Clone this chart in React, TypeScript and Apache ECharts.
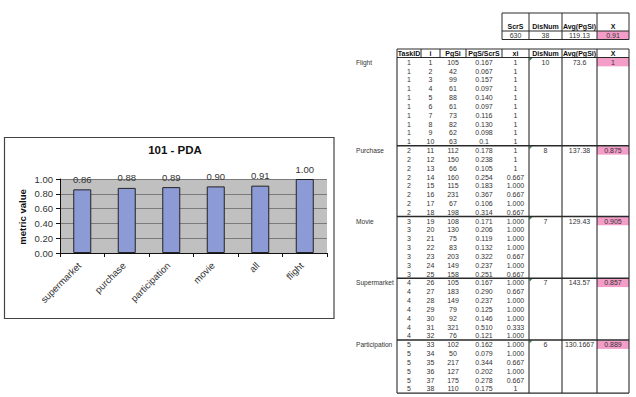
import React, { useEffect, useRef } from 'react';
import * as echarts from 'echarts';

// ---- Chart data ----
const categories = ['supermarket', 'purchase', 'participation', 'movie', 'all', 'flight'];
const metricValues = [0.86, 0.88, 0.89, 0.9, 0.91, 1.0];
const yAxisTitle = 'metric value';

// ---- Summary table ----
const summaryHeaders = ['ScrS', 'DisNum', 'Avg(PgSi)', 'X'];
const summaryValues = ['630', '38', '119.13', '0.91'];

// ---- Detail table ----
const tableHeaders = ['TaskID', 'i', 'PgSi', 'PgS/ScrS', 'xi', 'DisNum', 'Avg(PgSi)', 'X'];
const groupNames = ['Flight', 'Purchase', 'Movie', 'Supermarket', 'Participation'];
const groupTaskIds = ['1', '2', '3', '4', '5'];
const groupSizes = [10, 8, 7, 7, 6];
const groupDisNum = ['10', '8', '7', '7', '6'];
const groupAvg = ['73.6', '137.38', '129.43', '143.57', '130.1667'];
const groupX = ['1', '0.875', '0.905', '0.857', '0.889'];
const pgSi = [
  '105', '42', '99', '61', '88', '61', '73', '82', '62', '63',
  '112', '150', '66', '160', '115', '231', '67', '198',
  '108', '130', '75', '83', '203', '149', '158',
  '105', '183', '149', '79', '92', '321', '76',
  '102', '50', '217', '127', '175', '110',
];
const pgsRatio = [
  '0.167', '0.067', '0.157', '0.097', '0.140', '0.097', '0.116', '0.130', '0.098', '0.1',
  '0.178', '0.238', '0.105', '0.254', '0.183', '0.367', '0.106', '0.314',
  '0.171', '0.206', '0.119', '0.132', '0.322', '0.237', '0.251',
  '0.167', '0.290', '0.237', '0.125', '0.146', '0.510', '0.121',
  '0.162', '0.079', '0.344', '0.202', '0.278', '0.175',
];
const xiValues = [
  '1', '1', '1', '1', '1', '1', '1', '1', '1', '1',
  '1', '1', '1', '0.667', '1.000', '0.667', '1.000', '0.667',
  '1.000', '1.000', '1.000', '1.000', '0.667', '1.000', '0.667',
  '1.000', '0.667', '1.000', '1.000', '1.000', '0.333', '1.000',
  '1.000', '1.000', '0.667', '1.000', '0.667', '1',
];

// ---- Layout ----
const FONT = "'Liberation Sans', Arial, sans-serif";
const COLS = [397, 421, 440, 466, 502, 529, 562, 597, 629];
const HEAD_TOP = 49;
const HEAD_BOT = 57.5;
const ROW_H = 8.83;
const SUM_COLS = [502, 529, 562, 597, 629];
const SUM_TOP = 13;
const SUM_MID = 31;
const SUM_BOT = 39.5;
const PINK = '#F39DC8';
const LINE = '#2a2a2a';
const TXT = '#333';

function ln(x1: number, y1: number, x2: number, y2: number, w = 1, color = LINE) {
  return {
    type: 'line',
    silent: true,
    shape: { x1, y1, x2, y2 },
    style: { stroke: color, lineWidth: w },
  };
}

function tx(x: number, y: number, text: string, opts: any = {}) {
  const align = opts.align || 'center';
  const size = opts.size || 7;
  const weight = opts.bold ? 'bold' : 'normal';
  return {
    type: 'text',
    silent: true,
    x,
    y,
    rotation: opts.rotation || 0,
    style: {
      text,
      fill: opts.color || TXT,
      font: `${weight} ${size}px ${FONT}`,
      fontSize: size,
      fontFamily: FONT,
      fontWeight: weight,
      align,
      textAlign: align,
      verticalAlign: 'middle',
      textVerticalAlign: 'middle',
    },
  };
}

function buildGraphics() {
  const g: any[] = [];
  // chart outer frame
  g.push({
    type: 'rect',
    silent: true,
    shape: { x: 4.5, y: 137.5, width: 329.5, height: 181 },
    style: { fill: 'none', stroke: '#444', lineWidth: 1.2 },
  });
  // y axis title
  g.push(tx(22, 217, yAxisTitle, { bold: true, size: 9.5, color: '#111', rotation: Math.PI / 2 }));

  // summary table
  g.push({
    type: 'rect',
    silent: true,
    shape: { x: SUM_COLS[3], y: SUM_MID, width: SUM_COLS[4] - SUM_COLS[3], height: SUM_BOT - SUM_MID },
    style: { fill: PINK },
  });
  [SUM_TOP, SUM_MID, SUM_BOT].forEach((y) => g.push(ln(SUM_COLS[0], y, SUM_COLS[4], y)));
  SUM_COLS.forEach((x) => g.push(ln(x, SUM_TOP, x, SUM_BOT)));
  summaryHeaders.forEach((h, k) => {
    const cx = (SUM_COLS[k] + SUM_COLS[k + 1]) / 2;
    g.push(tx(cx, 26, h, { bold: true, color: '#111' }));
    g.push(tx(cx, (SUM_MID + SUM_BOT) / 2, summaryValues[k]));
  });

  const nRows = pgSi.length;
  const bottom = HEAD_BOT + nRows * ROW_H;

  // pink X cells + green markers
  let start = 0;
  groupSizes.forEach((size) => {
    const top = HEAD_BOT + start * ROW_H;
    g.push({
      type: 'rect',
      silent: true,
      shape: { x: COLS[7], y: top + 0.5, width: COLS[8] - COLS[7], height: ROW_H - 0.5 },
      style: { fill: PINK },
    });
    g.push({
      type: 'polygon',
      silent: true,
      shape: { points: [[COLS[5] + 0.5, top + 0.5], [COLS[5] + 3.5, top + 0.5], [COLS[5] + 0.5, top + 3.5]] },
      style: { fill: '#2f8f4f' },
    });
    start += size;
  });

  // header borders
  g.push(ln(COLS[0], HEAD_TOP, COLS[8], HEAD_TOP));
  g.push(ln(COLS[0], HEAD_BOT, COLS[8], HEAD_BOT, 1.2));
  COLS.forEach((x) => g.push(ln(x, HEAD_TOP, x, HEAD_BOT)));
  tableHeaders.forEach((h, k) => {
    const cx = (COLS[k] + COLS[k + 1]) / 2;
    g.push(tx(cx, (HEAD_TOP + HEAD_BOT) / 2, h, { bold: true, color: '#111' }));
  });

  // data verticals
  [COLS[0], COLS[5], COLS[6], COLS[7], COLS[8]].forEach((x) => g.push(ln(x, HEAD_BOT, x, bottom, 1.1)));
  g.push(ln(COLS[0], bottom, COLS[8], bottom, 1.2));

  // group separators & texts
  let row = 0;
  groupSizes.forEach((size, gi) => {
    const top = HEAD_BOT + row * ROW_H;
    if (gi > 0) g.push(ln(COLS[0], top, COLS[8], top, 1.4));
    const cy0 = top + ROW_H / 2 + 0.3;
    g.push(tx(356, cy0, groupNames[gi], { align: 'left', size: 6.6 }));
    g.push(tx((COLS[5] + COLS[6]) / 2, cy0, groupDisNum[gi]));
    g.push(tx((COLS[6] + COLS[7]) / 2, cy0, groupAvg[gi]));
    g.push(tx((COLS[7] + COLS[8]) / 2, cy0, groupX[gi]));
    for (let r = 0; r < size; r++) {
      const idx = row + r;
      const cy = HEAD_BOT + idx * ROW_H + ROW_H / 2 + 0.3;
      g.push(tx((COLS[0] + COLS[1]) / 2, cy, groupTaskIds[gi]));
      g.push(tx((COLS[1] + COLS[2]) / 2, cy, String(idx + 1)));
      g.push(tx((COLS[2] + COLS[3]) / 2, cy, pgSi[idx]));
      g.push(tx((COLS[3] + COLS[4]) / 2, cy, pgsRatio[idx]));
      g.push(tx((COLS[4] + COLS[5]) / 2, cy, xiValues[idx]));
    }
    row += size;
  });
  return g;
}

export default function App() {
  const ref = useRef<HTMLDivElement>(null);
  useEffect(() => {
    if (!ref.current) return;
    const chart = echarts.init(ref.current, undefined, { renderer: 'svg' });
    chart.setOption({
      animation: false,
      backgroundColor: '#ffffff',
      textStyle: { fontFamily: FONT },
      title: {
        text: '101 - PDA',
        left: 170,
        top: 139,
        textAlign: 'center',
        textStyle: { fontSize: 11.5, fontWeight: 'bold', color: '#111', fontFamily: FONT },
      },
      grid: {
        left: 60,
        top: 179,
        width: 267,
        height: 74,
        show: true,
        backgroundColor: '#C0C0C0',
        borderWidth: 0,
        containLabel: false,
      },
      xAxis: {
        type: 'category',
        data: categories,
        axisLine: { show: true, lineStyle: { color: '#111', width: 1 } },
        axisTick: { show: true, alignWithLabel: false, length: 4, lineStyle: { color: '#111' } },
        axisLabel: {
          rotate: 45,
          interval: 0,
          fontSize: 9.5,
          color: '#333',
          margin: 8,
          padding: [0, 4, 0, 0],
          fontFamily: FONT,
        },
        splitLine: { show: false },
      },
      yAxis: {
        type: 'value',
        min: 0,
        max: 1,
        interval: 0.2,
        axisLine: { show: true, lineStyle: { color: '#111', width: 1 } },
        axisTick: { show: true, length: 4, lineStyle: { color: '#111' } },
        axisLabel: {
          fontSize: 9.5,
          color: '#333',
          margin: 7,
          fontFamily: FONT,
          formatter: (v: number) => v.toFixed(2),
        },
        splitLine: { show: true, lineStyle: { color: '#7a7a7a', width: 1 } },
      },
      series: [
        {
          type: 'bar',
          data: metricValues,
          barWidth: 18,
          itemStyle: { color: '#8C9BD6', borderColor: '#222', borderWidth: 1 },
          label: {
            show: true,
            position: 'top',
            distance: 5,
            fontSize: 9.5,
            color: '#333',
            fontFamily: FONT,
            formatter: (p: any) => Number(p.value).toFixed(2),
          },
        },
      ],
      graphic: buildGraphics(),
    });
    return () => chart.dispose();
  }, []);
  return (
    <div
      ref={ref}
      style={{ position: 'fixed', left: 0, top: 0, width: 636, height: 397, background: '#fff' }}
    />
  );
}
